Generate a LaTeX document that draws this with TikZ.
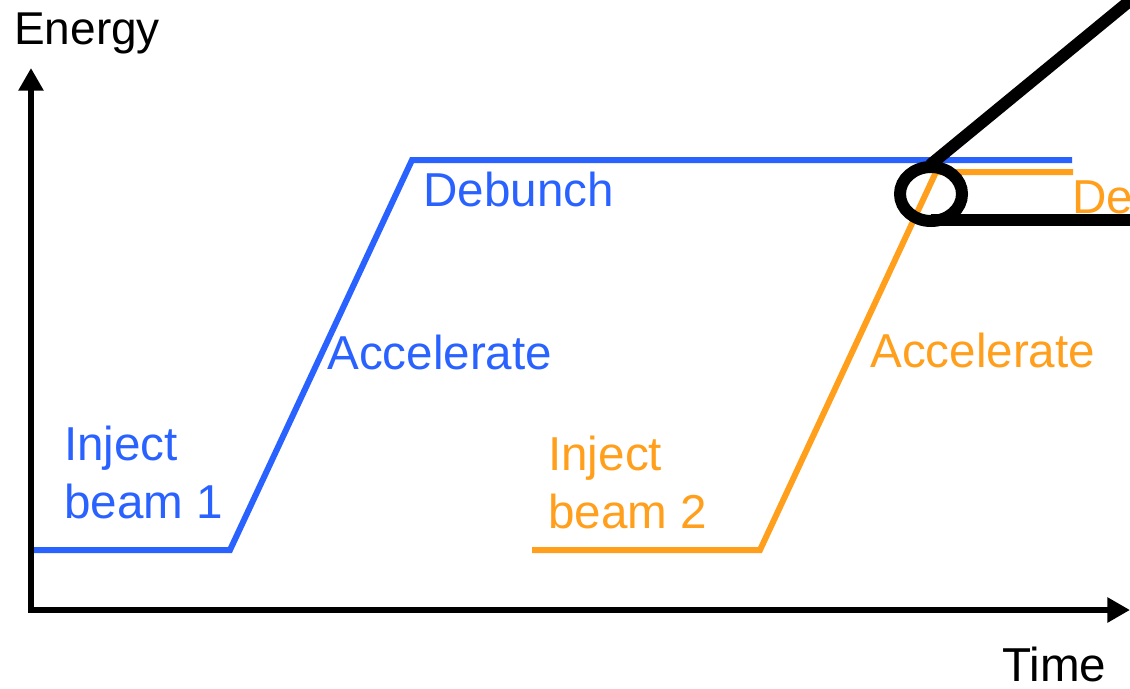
\documentclass[tikz,border=0pt]{standalone}
\usepackage{fontspec}
\setmainfont{Liberation Sans}
\usetikzlibrary{positioning,arrows.meta}
\definecolor{beamblue}{RGB}{41,98,255}
\definecolor{beamorange}{RGB}{255,159,28}
\tikzset{
  axis/.style={{Triangle[length=17pt, width=18pt]}-{Triangle[length=17pt, width=18pt]}, line width=5pt},
  beamone/.style={draw=beamblue, line width=4.5pt},
  beamtwo/.style={draw=beamorange, line width=4.5pt},
  lbl/.style={inner sep=0pt, anchor=base west, align=left, font=\fontsize{35.7}{43.5}\selectfont},
  marker/.style={draw=black, line width=9pt},
}

\begin{document}
\begin{tikzpicture}[x=0.75pt, y=-0.75pt]
\useasboundingbox (0,0) rectangle (1130,688);
\clip (0,0) rectangle (1130,688);

%Coordinates
\coordinate (origin) at (31,610);
\coordinate (ytip) at (31,68);
\coordinate (xtip) at (1130,610);
\coordinate (start1) at (34,550);
\coordinate (inj1) at (230,550);
\coordinate (top1) at (412,160);
\coordinate (end1) at (1072,160);
\coordinate (start2) at (532,550);
\coordinate (inj2) at (760,550);
\coordinate (top2) at (936,172);
\coordinate (end2) at (1073,172);
\coordinate (zoomc) at (931,194);

%Axes
\draw[axis] (ytip) -- (origin) -- (xtip);
\node[lbl, font=\fontsize{34.5}{43.5}\selectfont] (energy) at (14,45) {Energy};
\node[lbl] (time) at (1002,681) {Time};

%Beams
\draw[beamone] (start1) -- (inj1) -- (top1) -- (end1);
\draw[beamtwo] (start2) -- (inj2) -- (top2) -- (end2);

%Labels (base = last line)
\node[lbl, text=beamblue] (inject1) at (64,518) {Inject\\beam 1};
\node[lbl, text=beamblue] (accel1) at (327,369) {Accelerate};
\node[lbl, text=beamblue] (debunch1) at (423,206) {Debunch};
\node[lbl, text=beamorange] (inject2) at (548,528) {Inject\\beam 2};
\node[lbl, text=beamorange] (accel2) at (870,367) {Accelerate};
\node[lbl, text=beamorange] (debunch2) at (1072,213) {De};

%Zoom marker
\draw[marker] (zoomc) ellipse [x radius=31, y radius=27];
\draw[marker] (930,165) -- (1160,-24);
\draw[marker] (931,220) -- (1140,220);
\end{tikzpicture}
\end{document}
